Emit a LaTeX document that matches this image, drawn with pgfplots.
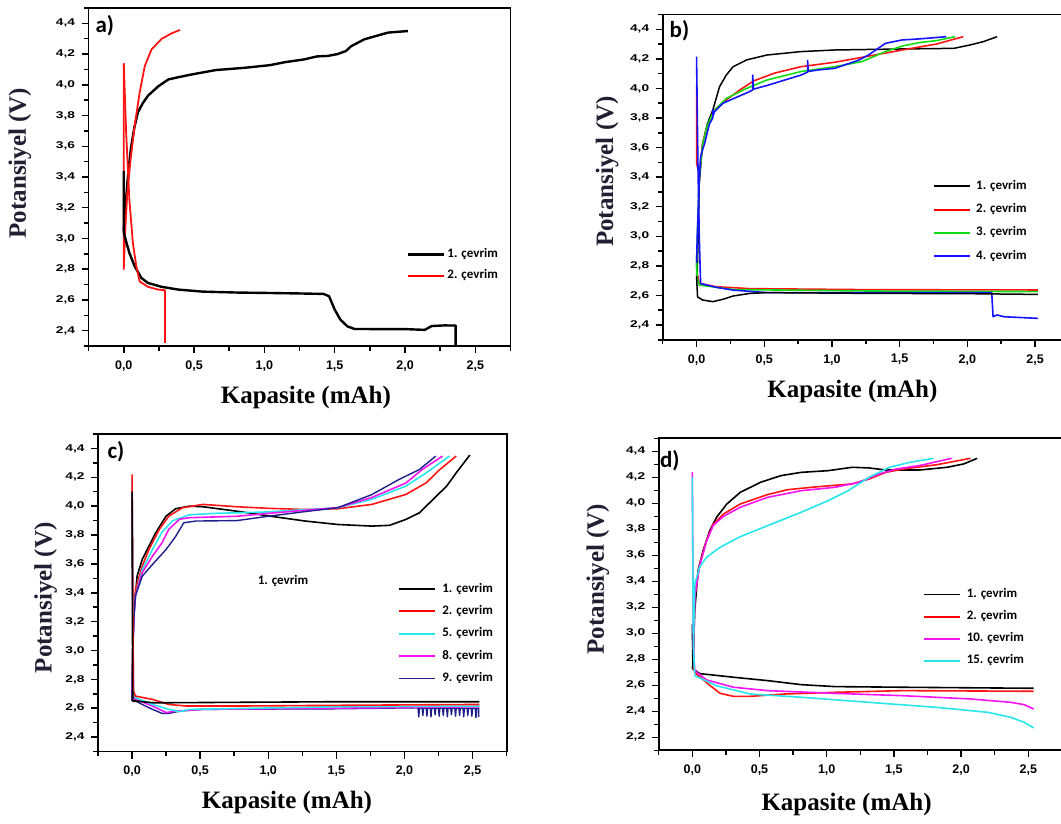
\documentclass[border=0pt]{standalone}
\usepackage{fontspec}
\setmainfont{Liberation Sans}
\newfontfamily\lserif{Liberation Serif}
\newfontfamily\carl{Carlito}
\usepackage{graphicx}
\usepackage{pgfplots}
\pgfplotsset{compat=1.18}
\definecolor{ylab}{RGB}{35,30,50}
\definecolor{cred}{RGB}{255,20,20}
\definecolor{cgreen}{RGB}{20,220,20}
\definecolor{cblue}{RGB}{20,20,255}
\definecolor{ccyan}{RGB}{40,230,235}
\definecolor{cmag}{RGB}{245,20,245}
\definecolor{cnavy}{RGB}{30,30,140}
\pgfplotsset{
 panel/.style={
  scale only axis, xmin=-0.25, xmax=2.75, ymax=4.5,
  axis line style={line width=1.8pt},
  xtick={0,0.5,1,1.5,2,2.5},
  minor xtick={-0.25,0.25,0.75,1.25,1.75,2.25,2.75},
  tick align=outside, xtick pos=bottom, ytick pos=left,
  major tick length=7pt, minor tick length=4.5pt,
  tick style={line width=1.5pt, black},
  xticklabel style={font=\fontsize{12.5}{12.5}\selectfont\bfseries, yshift=-4pt},
  yticklabel style={font=\fontsize{9.8}{10}\selectfont\bfseries, xshift=-3pt},
  yticklabel={\scalebox{1.4}[1]{\pgfmathprintnumber{\tick}}},
  /pgf/number format/use comma, /pgf/number format/fixed,
  /pgf/number format/fixed zerofill, /pgf/number format/precision=1,
  /pgf/number format/assume math mode=true,
  xlabel={Kapasite (mAh)}, ylabel={Potansiyel (V)},
  label style={font=\lserif\fontsize{25}{25}\selectfont\bfseries},
  legend style={draw=none, fill=none, font=\carl\fontsize{13}{13}\selectfont\bfseries, inner sep=0pt, nodes={inner sep=0pt, text height=9pt, text depth=3pt}},
  legend cell align=left,
  legend image code/.code={\draw[##1] (0pt,0pt) -- (36pt,0pt);},
  every axis plot/.append style={no markers, line join=round, forget plot},
 },
}
\tikzset{letter/.style={font=\carl\fontsize{23}{23}\selectfont\bfseries, anchor=north west, inner sep=0pt}}
\begin{document}
\begin{tikzpicture}
\useasboundingbox (0,0) rectangle (1061pt,-824pt);
\clip (0,0) rectangle (1061pt,-824pt);

% ---------------- a ----------------
\begin{axis}[panel, at={(88.6pt,-8pt)}, anchor=north west, width=421.9pt, height=338pt,
  ymin=2.3, ytick={2.4,2.6,...,4.41}, minor ytick={2.3,2.5,...,4.51},
  xlabel style={at={(axis description cs:0.515,-0.151)}, anchor=center},
  ylabel style={at={(axis description cs:-0.163,0.541)}, anchor=center, color=ylab},
  legend style={at={(axis description cs:0.753,0.289)}, anchor=north west, row sep=9pt, column sep=2pt}]
\addlegendimage{black, line width=3pt}
\addlegendentry{1. çevrim}
\addlegendimage{red, line width=2pt}
\addlegendentry{2. çevrim}
\addplot[black, line width=2.4pt] coordinates {(0.0,3.05) (0.012,3.2) (0.024,3.34) (0.035,3.46) (0.053,3.6) (0.075,3.72) (0.1,3.82) (0.135,3.88) (0.173,3.93) (0.245,3.99) (0.317,4.035) (0.39,4.05) (0.486,4.068) (0.654,4.096) (0.85,4.11) (1.04,4.128) (1.15,4.148) (1.28,4.165) (1.375,4.185) (1.45,4.188) (1.52,4.2) (1.58,4.22) (1.615,4.25) (1.71,4.296) (1.81,4.322) (1.88,4.34) (2.02,4.35)};
\addplot[color=cred, line width=1.8pt] coordinates {(0,4.14) (0,2.8) (0.01,3.04) (0.024,3.28) (0.048,3.51) (0.077,3.73) (0.113,3.95) (0.149,4.12) (0.197,4.23) (0.27,4.3) (0.34,4.335) (0.4,4.357)};
\addplot[black, line width=2.4pt] coordinates {(0,3.44) (0,3.04) (0.02,2.97) (0.04,2.906) (0.077,2.82) (0.125,2.743) (0.173,2.71) (0.27,2.685) (0.39,2.667) (0.56,2.654) (0.8,2.648) (1.04,2.645) (1.25,2.642) (1.42,2.639) (1.46,2.624) (1.48,2.58) (1.5,2.537) (1.54,2.472) (1.59,2.428) (1.64,2.411) (1.8,2.41) (2.0,2.41) (2.14,2.405) (2.17,2.42) (2.19,2.43) (2.28,2.434) (2.36,2.433) (2.36,2.29)};
\addplot[color=cred, line width=1.8pt] coordinates {(0,4.14) (0.017,3.69) (0.04,3.25) (0.065,2.97) (0.089,2.82) (0.113,2.72) (0.173,2.685) (0.245,2.667) (0.293,2.663) (0.293,2.32)};
\node[letter] at (axis description cs:0.016,0.979) {a)};
\end{axis}

% ---------------- b ----------------
\begin{axis}[panel, at={(662.7pt,-14.5pt)}, anchor=north west, width=406.2pt, height=325.3pt,
  ymin=2.3, ytick={2.4,2.6,...,4.41}, minor ytick={2.3,2.5,...,4.51},
  xlabel style={at={(axis description cs:0.467,-0.16)}, anchor=center},
  ylabel style={at={(axis description cs:-0.137,0.517)}, anchor=center, color=ylab},
  legend style={at={(axis description cs:0.6654,0.491)}, anchor=north west, row sep=11.3pt, column sep=5pt}]
\addlegendimage{black, line width=1.6pt}
\addlegendentry{1. çevrim}
\addlegendimage{red, line width=2pt}
\addlegendentry{2. çevrim}
\addlegendimage{color=cgreen, line width=1.8pt}
\addlegendentry{3. çevrim}
\addlegendimage{color=cblue, line width=1.8pt}
\addlegendentry{4. çevrim}
\addplot[black, line width=1.5pt] coordinates {(0,2.73) (0.005,2.75) (0.012,3.0) (0.02,3.36) (0.045,3.63) (0.08,3.76) (0.12,3.854) (0.17,4.012) (0.22,4.091) (0.27,4.147) (0.37,4.193) (0.52,4.226) (0.77,4.249) (1.02,4.26) (1.52,4.267) (1.9,4.271) (2.02,4.294) (2.12,4.317) (2.22,4.35)};
\addplot[color=cred, line width=1.6pt] coordinates {(0,4.035) (0,3.494) (0.02,3.426) (0.045,3.629) (0.08,3.742) (0.13,3.854) (0.22,3.922) (0.32,3.99) (0.42,4.05) (0.57,4.102) (0.77,4.147) (1.02,4.177) (1.22,4.21) (1.52,4.26) (1.77,4.30) (1.97,4.35)};
\addplot[color=cgreen, line width=1.6pt] coordinates {(0,2.73) (0,2.82) (0.02,3.4) (0.045,3.62) (0.08,3.75) (0.13,3.85) (0.22,3.933) (0.37,4.0) (0.52,4.057) (0.77,4.114) (1.02,4.147) (1.22,4.181) (1.395,4.249) (1.52,4.287) (1.645,4.31) (1.77,4.323) (1.91,4.35)};
\addplot[color=cblue, line width=1.6pt] coordinates {(0,2.8) (0.005,3.0) (0.02,3.38) (0.03,3.54) (0.06,3.63) (0.095,3.76) (0.12,3.80) (0.12,3.86) (0.125,3.82) (0.13,3.84) (0.195,3.9) (0.27,3.93) (0.395,3.98) (0.415,3.99) (0.415,4.09) (0.42,3.995) (0.52,4.02) (0.77,4.09) (0.82,4.11) (0.82,4.19) (0.825,4.115) (0.9,4.125) (1.02,4.136) (1.195,4.19) (1.27,4.226) (1.395,4.305) (1.52,4.328) (1.645,4.335) (1.845,4.35)};
\addplot[color=cred, line width=1.6pt] coordinates {(0.005,2.75) (0.02,2.682) (0.145,2.659) (0.395,2.646) (1.27,2.639) (2.52,2.637)};
\addplot[color=cgreen, line width=1.6pt] coordinates {(0,2.82) (0.005,2.72) (0.02,2.67) (0.27,2.64) (1.27,2.63) (2.52,2.626)};
\addplot[color=cblue, line width=1.6pt] coordinates {(0,4.215) (0.01,3.5) (0.02,3.0) (0.03,2.68) (0.045,2.677) (0.145,2.655) (0.27,2.636) (0.52,2.619) (1.27,2.619) (2.18,2.619) (2.19,2.456) (2.22,2.468) (2.27,2.456) (2.52,2.445)};
\addplot[black, line width=1.5pt] coordinates {(0,2.73) (0.0075,2.59) (0.045,2.569) (0.12,2.558) (0.195,2.574) (0.27,2.596) (0.395,2.614) (0.52,2.619) (1.27,2.614) (2.0,2.612) (2.52,2.607)};
\node[letter] at (axis description cs:0.0167,0.983) {b)};
\end{axis}

% ---------------- c ----------------
\begin{axis}[panel, at={(98pt,-434pt)}, anchor=north west, width=408.6pt, height=317.5pt,
  ymin=2.3, ytick={2.4,2.6,...,4.41}, minor ytick={2.3,2.5,...,4.51},
  xlabel style={at={(axis description cs:0.4626,-0.162)}, anchor=center},
  ylabel style={at={(axis description cs:-0.128,0.484)}, anchor=center, color=ylab},
  legend style={at={(axis description cs:0.7347,0.531)}, anchor=north west, row sep=10.3pt, column sep=6pt}]
\addlegendimage{black, line width=1.6pt}
\addlegendentry{1. çevrim}
\addlegendimage{red, line width=2pt}
\addlegendentry{2. çevrim}
\addlegendimage{color=ccyan, line width=1.8pt}
\addlegendentry{5. çevrim}
\addlegendimage{color=cmag, line width=1.8pt}
\addlegendentry{8. çevrim}
\addlegendimage{color=cnavy, line width=1.3pt}
\addlegendentry{9. çevrim}
\addplot[black, line width=1.6pt] coordinates {(0,2.65) (0.005,3.0) (0.012,3.238) (0.037,3.515) (0.075,3.631) (0.124,3.723) (0.174,3.816) (0.25,3.931) (0.32,3.982) (0.42,4.0) (0.52,3.996) (0.77,3.965) (1.02,3.93) (1.27,3.897) (1.51,3.873) (1.76,3.862) (1.89,3.867) (2.01,3.908) (2.11,3.954) (2.21,4.047) (2.31,4.139) (2.38,4.231) (2.48,4.354)};
\addplot[color=cred, line width=1.6pt] coordinates {(0,2.65) (0.005,3.0) (0.012,3.25) (0.025,3.423) (0.075,3.585) (0.124,3.7) (0.2,3.839) (0.27,3.931) (0.37,3.989) (0.52,4.012) (0.77,3.996) (1.0,3.985) (1.27,3.977) (1.51,3.982) (1.76,4.012) (2.01,4.081) (2.16,4.162) (2.26,4.254) (2.38,4.347)};
\addplot[color=ccyan, line width=1.6pt] coordinates {(0,2.65) (0.005,3.0) (0.015,3.25) (0.025,3.38) (0.075,3.56) (0.15,3.70) (0.22,3.82) (0.3,3.9) (0.42,3.94) (0.6,3.95) (0.77,3.954) (1.0,3.96) (1.25,3.975) (1.51,3.989) (1.76,4.047) (2.01,4.139) (2.16,4.231) (2.33,4.347)};
\addplot[color=cmag, line width=1.6pt] coordinates {(0,2.65) (0.005,3.0) (0.015,3.25) (0.025,3.38) (0.075,3.54) (0.15,3.654) (0.22,3.746) (0.27,3.84) (0.35,3.91) (0.42,3.92) (0.77,3.93) (1.0,3.95) (1.25,3.97) (1.51,3.99) (1.76,4.06) (2.01,4.16) (2.13,4.254) (2.28,4.347)};
\addplot[color=cnavy, line width=1.4pt] coordinates {(0,2.65) (0.005,3.0) (0.015,3.25) (0.025,3.38) (0.075,3.515) (0.15,3.596) (0.25,3.70) (0.32,3.79) (0.38,3.885) (0.47,3.897) (0.77,3.9) (1.0,3.93) (1.25,3.96) (1.51,3.989) (1.76,4.08) (1.96,4.185) (2.11,4.254) (2.23,4.347)};
\addplot[color=cnavy, line width=1.4pt] coordinates {(0,4.1) (0.01,2.68) (0.025,2.65) (0.124,2.603) (0.22,2.564) (0.27,2.564) (0.35,2.58) (0.52,2.592) (1.51,2.596) (2.09,2.603) (2.10,2.60) (2.105,2.54) (2.11,2.60) (2.13,2.60) (2.135,2.55) (2.14,2.60) (2.16,2.60) (2.165,2.545) (2.17,2.60) (2.19,2.60) (2.195,2.54) (2.20,2.60) (2.22,2.60) (2.225,2.555) (2.23,2.60) (2.25,2.60) (2.255,2.545) (2.26,2.60) (2.28,2.60) (2.285,2.55) (2.29,2.60) (2.31,2.60) (2.315,2.54) (2.32,2.60) (2.34,2.60) (2.345,2.555) (2.35,2.60) (2.37,2.60) (2.375,2.545) (2.38,2.60) (2.40,2.60) (2.405,2.55) (2.41,2.60) (2.43,2.60) (2.435,2.54) (2.44,2.60) (2.46,2.60) (2.465,2.55) (2.47,2.60) (2.49,2.60) (2.495,2.545) (2.50,2.60) (2.52,2.60) (2.525,2.535) (2.53,2.60) (2.545,2.60) (2.545,2.54)};
\addplot[color=cmag, line width=1.6pt] coordinates {(0,4.15) (0.01,2.69) (0.025,2.661) (0.15,2.615) (0.25,2.57) (0.32,2.58) (0.52,2.592) (2.55,2.61)};
\addplot[color=ccyan, line width=1.6pt] coordinates {(0,4.2) (0.01,2.7) (0.025,2.673) (0.15,2.626) (0.27,2.592) (0.35,2.576) (0.42,2.592) (1.51,2.61) (2.55,2.615)};
\addplot[color=cred, line width=1.6pt] coordinates {(0,4.22) (0.01,2.72) (0.025,2.684) (0.15,2.661) (0.27,2.626) (0.4,2.615) (0.77,2.615) (1.51,2.62) (2.55,2.626)};
\addplot[black, line width=1.6pt] coordinates {(0,4.1) (0.005,2.65) (0.025,2.65) (0.15,2.638) (0.27,2.638) (1.51,2.645) (2.55,2.645)};
\node[letter] at (axis description cs:0.023,0.976) {c)};
\node[font=\carl\fontsize{13}{13}\selectfont\bfseries, inner sep=0pt] at (axis description cs:0.4528,0.5376) {1. çevrim};
\end{axis}

% ---------------- d ----------------
\begin{axis}[panel, at={(658.7pt,-438.3pt)}, anchor=north west, width=403.2pt, height=312pt,
  ymin=2.1, ytick={2.2,2.4,...,4.41}, minor ytick={2.1,2.3,...,4.51},
  xlabel style={at={(axis description cs:0.466,-0.175)}, anchor=center},
  ylabel style={at={(axis description cs:-0.151,0.549)}, anchor=center, color=ylab},
  legend style={at={(axis description cs:0.655,0.519)}, anchor=north west, row sep=10.1pt, column sep=5.8pt}]
\addlegendimage{black, line width=1.6pt}
\addlegendentry{1. çevrim}
\addlegendimage{red, line width=2pt}
\addlegendentry{2. çevrim}
\addlegendimage{color=cmag, line width=1.8pt}
\addlegendentry{10. çevrim}
\addlegendimage{color=ccyan, line width=1.8pt}
\addlegendentry{15. çevrim}
\addplot[black, line width=1.6pt] coordinates {(0,2.73) (0.005,2.76) (0.018,3.174) (0.043,3.482) (0.08,3.636) (0.13,3.79) (0.18,3.892) (0.257,3.995) (0.358,4.085) (0.509,4.162) (0.66,4.213) (0.81,4.238) (1.01,4.251) (1.19,4.277) (1.315,4.272) (1.44,4.256) (1.69,4.256) (1.895,4.277) (2.02,4.303) (2.12,4.346)};
\addplot[color=cred, line width=1.6pt] coordinates {(0.005,2.74) (0.018,3.277) (0.055,3.53) (0.106,3.713) (0.156,3.84) (0.232,3.918) (0.358,3.995) (0.56,4.067) (0.71,4.105) (0.937,4.128) (1.19,4.149) (1.315,4.187) (1.44,4.238) (1.57,4.264) (1.82,4.297) (2.07,4.346)};
\addplot[color=cmag, line width=1.6pt] coordinates {(0.005,2.74) (0.02,3.3) (0.055,3.52) (0.106,3.71) (0.156,3.83) (0.232,3.9) (0.358,3.97) (0.56,4.046) (0.81,4.097) (1.06,4.123) (1.24,4.162) (1.39,4.226) (1.517,4.264) (1.69,4.29) (1.93,4.346)};
\addplot[color=ccyan, line width=1.6pt] coordinates {(0.005,2.72) (0.018,3.38) (0.055,3.51) (0.106,3.585) (0.207,3.662) (0.358,3.744) (0.56,3.828) (0.81,3.931) (1.01,4.02) (1.16,4.097) (1.315,4.2) (1.467,4.277) (1.618,4.315) (1.794,4.346)};
\addplot[black, line width=1.6pt] coordinates {(0,3.07) (0.005,2.726) (0.055,2.69) (0.307,2.662) (0.56,2.636) (0.81,2.605) (1.06,2.59) (1.567,2.585) (2.54,2.577)};
\addplot[color=cred, line width=1.6pt] coordinates {(0.005,2.74) (0.03,2.687) (0.13,2.6) (0.207,2.538) (0.307,2.515) (0.43,2.515) (0.685,2.533) (1.06,2.546) (1.567,2.559) (2.54,2.554)};
\addplot[color=cmag, line width=1.6pt] coordinates {(0,4.24) (0.008,2.9) (0.018,2.713) (0.106,2.641) (0.307,2.585) (0.56,2.559) (1.06,2.538) (1.567,2.52) (2.07,2.495) (2.37,2.469) (2.47,2.451) (2.54,2.418)};
\addplot[color=ccyan, line width=1.6pt] coordinates {(0,4.2) (0.008,2.9) (0.018,2.674) (0.18,2.597) (0.43,2.533) (0.81,2.508) (1.315,2.469) (1.82,2.43) (2.2,2.392) (2.37,2.354) (2.47,2.315) (2.54,2.272)};
\node[letter] at (axis description cs:0.003,0.9625) {d)};
\end{axis}
\end{tikzpicture}
\end{document}
